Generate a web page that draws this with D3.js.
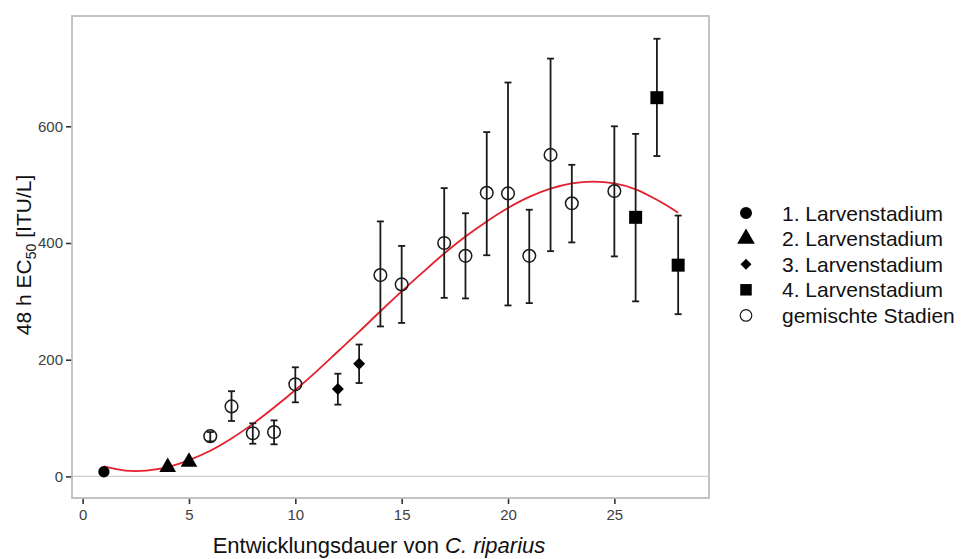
<!DOCTYPE html>
<html>
<head>
<meta charset="utf-8">
<script src="https://cdn.jsdelivr.net/npm/d3@7"></script>
<style>
  body { margin: 0; background: #fff; }
  svg { display: block; font-family: "Liberation Sans", Arial, sans-serif; }
</style>
</head>
<body>
<svg id="chart"></svg>
<script>
// Data
const stage1X = [1];
const stage1Y = [8];

const stage2X = [4, 5];
const stage2Y = [16, 25];

const stage3X = [12, 13];
const stage3Y = [150, 193];
const stage3Lo = [123, 160];
const stage3Hi = [176, 226];

const stage4X = [26, 27, 28];
const stage4Y = [444, 649, 362];
const stage4Lo = [300, 549, 278];
const stage4Hi = [587, 750, 447];

const mixedX = [6, 7, 8, 9, 10, 14, 15, 17, 18, 19, 20, 21, 22, 23, 25];
const mixedY = [69, 120, 74, 76, 158, 345, 329, 400, 378, 486, 485, 378, 551, 468, 489];
const mixedLo = [60, 95, 56, 55, 127, 257, 263, 306, 305, 379, 293, 297, 386, 401, 377];
const mixedHi = [76, 146, 91, 96, 187, 437, 395, 494, 451, 590, 675, 457, 716, 534, 600];

// fitted curve (red), read at whole days
const curveX = [1, 2, 3, 4, 5, 6, 7, 8, 9, 10, 11, 12, 13, 14, 15, 16, 17, 18, 19, 20, 21, 22, 23, 24, 25, 26, 27, 28];
const curveY = [17, 10, 10, 16, 28, 44, 65, 90, 118, 148, 180, 214, 248, 283, 317, 350, 382, 411, 437, 460, 479, 493, 502, 505, 502, 492, 474, 452];

const xTicks = [0, 5, 10, 15, 20, 25];
const yTicks = [0, 200, 400, 600];

const legendLabels = ["1. Larvenstadium", "2. Larvenstadium", "3. Larvenstadium", "4. Larvenstadium", "gemischte Stadien"];

// Layout
const W = 963, H = 559;
const margin = { top: 16, right: 254, bottom: 61, left: 72 };
const width = W - margin.left - margin.right;
const height = H - margin.top - margin.bottom;

const svg = d3.select("#chart").attr("width", W).attr("height", H);

const x = d3.scaleLinear().domain([-0.5, 29.45]).range([margin.left, margin.left + width]);
const y = d3.scaleLinear().domain([-37, 789]).range([margin.top + height, margin.top]);

// zero line
svg.append("line")
    .attr("x1", margin.left).attr("x2", margin.left + width)
    .attr("y1", y(0)).attr("y2", y(0))
    .attr("stroke", "#cfcfcf").attr("stroke-width", 1.2);

// Axes
const xAxis = svg.append("g")
    .attr("transform", `translate(0,${margin.top + height})`)
    .call(d3.axisBottom(x).tickValues(xTicks).tickSize(6).tickPadding(5));
const yAxis = svg.append("g")
    .attr("transform", `translate(${margin.left},0)`)
    .call(d3.axisLeft(y).tickValues(yTicks).tickSize(6).tickPadding(3));

[xAxis, yAxis].forEach(g => {
    g.select(".domain").remove();
    g.selectAll(".tick line").attr("stroke", "#333").attr("stroke-width", 1.6);
    g.selectAll(".tick text").attr("fill", "#404040").style("font-size", "15px");
});

// Panel border
svg.append("rect")
    .attr("x", margin.left).attr("y", margin.top)
    .attr("width", width).attr("height", height)
    .attr("fill", "none").attr("stroke", "#bdbdbd").attr("stroke-width", 1.8);

// Fitted curve
svg.append("path")
    .datum(curveX.map((d, i) => [d, curveY[i]]))
    .attr("fill", "none")
    .attr("stroke", "#e4202c")
    .attr("stroke-width", 1.8)
    .attr("d", d3.line().x(d => x(d[0])).y(d => y(d[1])).curve(d3.curveCatmullRom));

// Error bars
function errorBars(xs, lo, hi) {
    const g = svg.append("g").attr("stroke", "#1a1a1a").attr("stroke-width", 1.8);
    xs.forEach((d, i) => {
        g.append("line").attr("x1", x(d)).attr("x2", x(d)).attr("y1", y(lo[i])).attr("y2", y(hi[i]));
        g.append("line").attr("x1", x(d) - 3.5).attr("x2", x(d) + 3.5).attr("y1", y(lo[i])).attr("y2", y(lo[i]));
        g.append("line").attr("x1", x(d) - 3.5).attr("x2", x(d) + 3.5).attr("y1", y(hi[i])).attr("y2", y(hi[i]));
    });
}
errorBars(stage3X, stage3Lo, stage3Hi);
errorBars(stage4X, stage4Lo, stage4Hi);
errorBars(mixedX, mixedLo, mixedHi);

// Markers
const shapes = [
    { type: d3.symbolCircle, size: 100, rot: 0, fill: "#000", stroke: "none" },
    { type: d3.symbolTriangle, size: 120, rot: 0, fill: "#000", stroke: "none" },
    { type: d3.symbolSquare, size: 72, rot: 45, fill: "#000", stroke: "none" },
    { type: d3.symbolSquare, size: 169, rot: 0, fill: "#000", stroke: "none" },
    { type: d3.symbolCircle, size: 125, rot: 0, fill: "none", stroke: "#1a1a1a" }
];

function markers(xs, ys, s) {
    svg.append("g").selectAll("path")
        .data(xs.map((d, i) => [d, ys[i]]))
        .enter()
        .append("path")
        .attr("d", d3.symbol().type(s.type).size(s.size))
        .attr("transform", d => `translate(${x(d[0])},${y(d[1])}) rotate(${s.rot})`)
        .attr("fill", s.fill)
        .attr("stroke", s.stroke)
        .attr("stroke-width", 1.5);
}
markers(stage1X, stage1Y, shapes[0]);
markers(stage2X, stage2Y, shapes[1]);
markers(stage3X, stage3Y, shapes[2]);
markers(stage4X, stage4Y, shapes[3]);
markers(mixedX, mixedY, shapes[4]);

// Axis titles
svg.append("text")
    .attr("x", 379).attr("y", 553)
    .attr("text-anchor", "middle")
    .style("font-size", "22px").attr("fill", "#111")
    .call(t => {
        t.append("tspan").text("Entwicklungsdauer von ");
        t.append("tspan").style("font-style", "italic").text("C. riparius");
    });

svg.append("text")
    .attr("transform", "translate(31,255) rotate(-90)")
    .attr("text-anchor", "middle")
    .style("font-size", "21px").attr("fill", "#111")
    .call(t => {
        t.append("tspan").text("48 h EC");
        t.append("tspan").attr("dy", 5).style("font-size", "14px").text("50");
        t.append("tspan").attr("dy", -5).attr("dx", 6).text("[ITU/L]");
    });

// Legend
const legendShapes = [
    { type: d3.symbolCircle, size: 113, rot: 0, fill: "#000", stroke: "none" },
    { type: d3.symbolTriangle, size: 135, rot: 0, fill: "#000", stroke: "none" },
    { type: d3.symbolSquare, size: 60, rot: 45, fill: "#000", stroke: "none" },
    { type: d3.symbolSquare, size: 132, rot: 0, fill: "#000", stroke: "none" },
    { type: d3.symbolCircle, size: 105, rot: 0, fill: "none", stroke: "#1a1a1a" }
];

const legend = svg.append("g");
legendLabels.forEach((label, i) => {
    const ly = 213 + i * 25.6;
    const s = legendShapes[i];
    legend.append("path")
        .attr("d", d3.symbol().type(s.type).size(s.size))
        .attr("transform", `translate(746,${ly}) rotate(${s.rot})`)
        .attr("fill", s.fill).attr("stroke", s.stroke).attr("stroke-width", 1.2);
    legend.append("text")
        .attr("x", 782).attr("y", ly)
        .attr("dy", "0.36em")
        .style("font-size", "21px").attr("fill", "#111")
        .text(label);
});
</script>
</body>
</html>
